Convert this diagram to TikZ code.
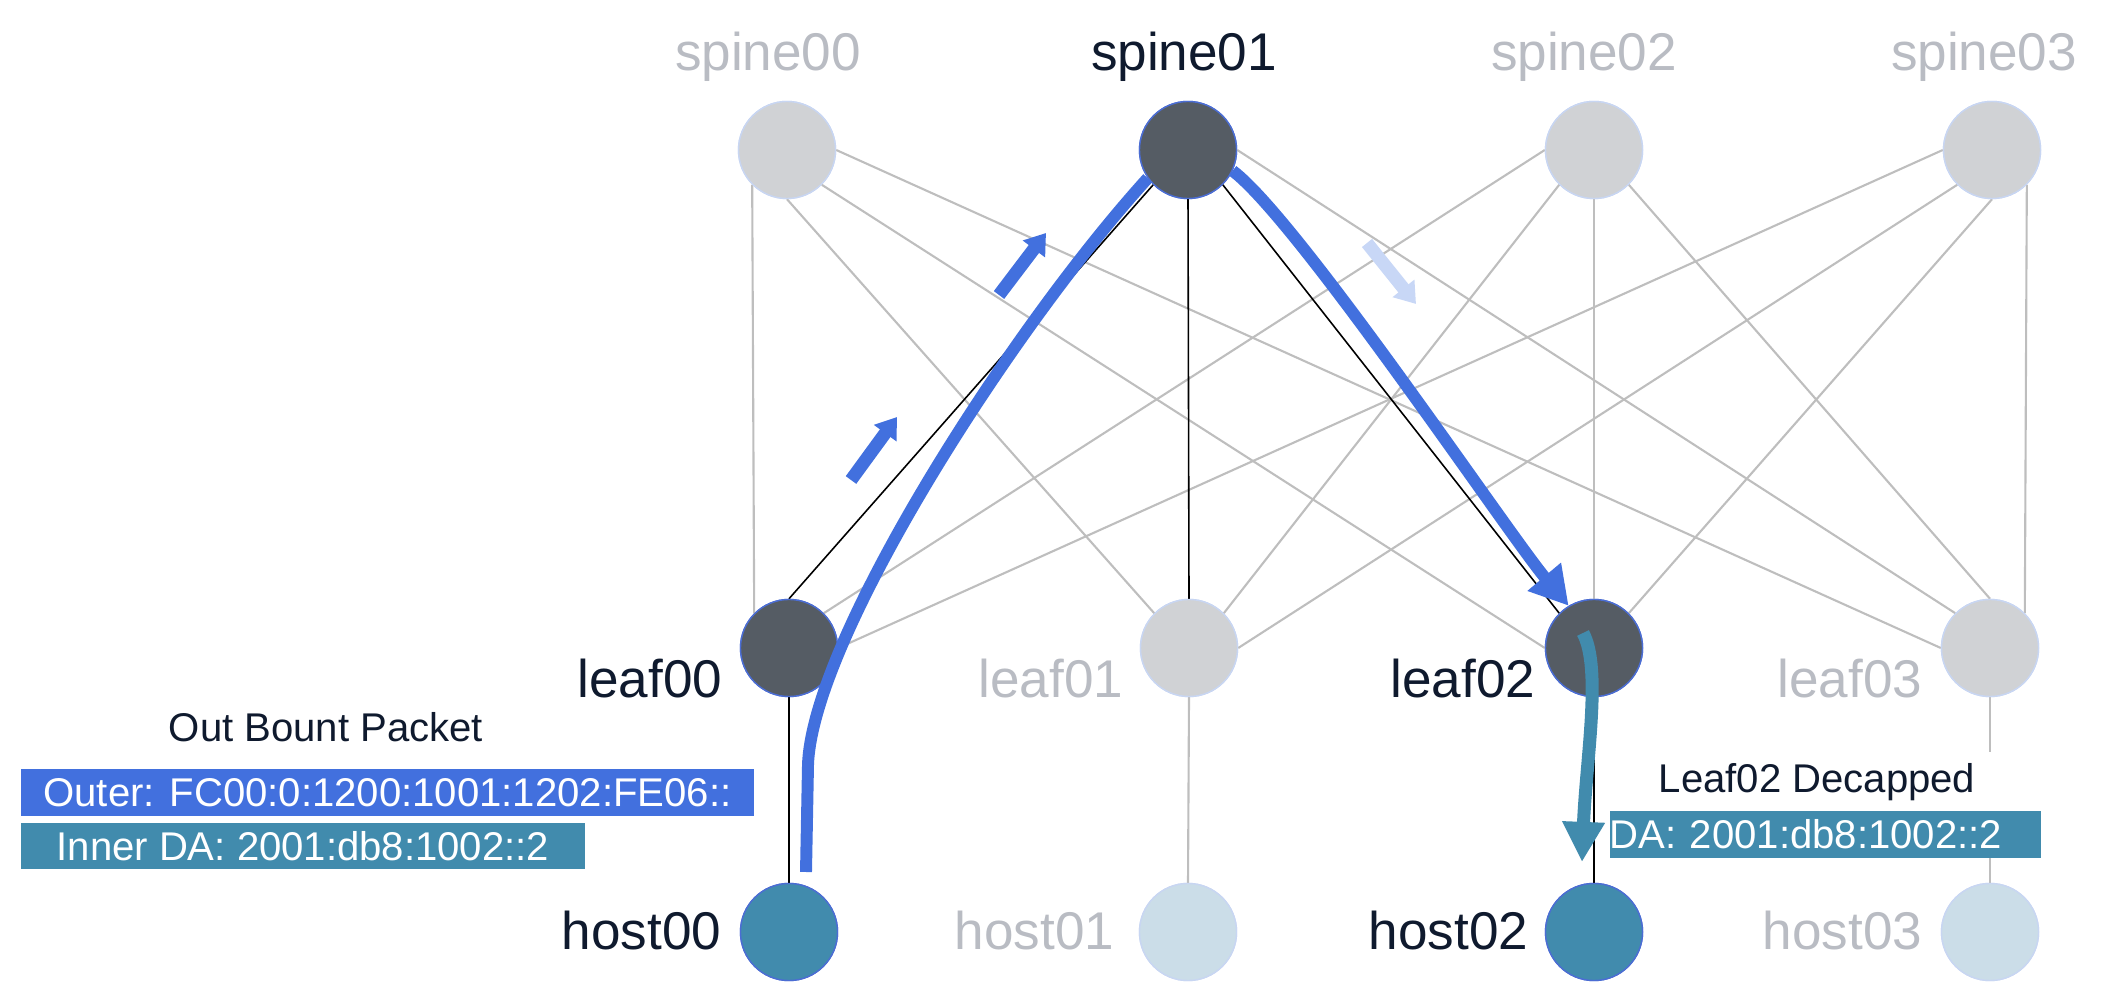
\documentclass[tikz,border=0pt]{standalone}
\usepackage{fontspec}
\setmainfont{Liberation Sans}
\usetikzlibrary{calc,arrows.meta}
\definecolor{SlateNode}{HTML}{555C64}
\definecolor{MistNode}{HTML}{D0D2D5}
\definecolor{TealNode}{HTML}{418BAD}
\definecolor{PaleNode}{HTML}{CBDDE8}
\definecolor{RimBlue}{HTML}{4B6DD3}
\definecolor{RimPale}{HTML}{C8D6F2}
\definecolor{InkDark}{HTML}{0F1A2E}
\definecolor{InkGray}{HTML}{B9BCC3}
\definecolor{WireGray}{HTML}{BEBEBE}
\definecolor{PathBlue}{HTML}{4270DE}
\definecolor{GhostBlue}{HTML}{C8D7F6}

\begin{document}
\begin{tikzpicture}[x=0.01cm,y=-0.01cm,
  dev/.style={circle,minimum size=0.97cm,inner sep=0pt,line width=0.4pt},
  busy/.style={dev,fill=SlateNode,draw=RimBlue},
  idle/.style={dev,fill=MistNode,draw=RimPale},
  hbusy/.style={dev,fill=TealNode,draw=RimBlue},
  hidle/.style={dev,fill=PaleNode,draw=RimPale},
  tag/.style={inner sep=0pt,font=\fontsize{15.1}{18}\selectfont,text=InkDark},
  tagoff/.style={tag,text=InkGray},
  wire/.style={WireGray,line width=0.6pt},
  live/.style={black,line width=0.45pt},
  note/.style={font=\fontsize{11.4}{14}\selectfont,text=InkDark},
  chip/.style={font=\fontsize{11.4}{14}\selectfont,text=white,minimum height=0.47cm,inner ysep=0pt},
  flow/.style={line width=3.4pt},
  nudge/.style={line width=3.7pt,-{Triangle[length=5.7pt,width=7.6pt]}}]
\useasboundingbox (0,0) rectangle (2118,992);

% devices
\node[idle] (spine00) at (787,150) {};
\node[busy] (spine01) at (1188,150) {};
\node[idle] (spine02) at (1594,150) {};
\node[idle] (spine03) at (1992,150) {};
\node[busy] (leaf00) at (789,648) {};
\node[idle] (leaf01) at (1189,648) {};
\node[busy] (leaf02) at (1594,648) {};
\node[idle] (leaf03) at (1990,648) {};
\node[hbusy] (host00) at (789,932) {};
\node[hidle] (host01) at (1188,932) {};
\node[hbusy] (host02) at (1594,932) {};
\node[hidle] (host03) at (1990,932) {};

% fabric links
\draw[wire] (spine00.south west) -- (leaf00.north west);
\draw[wire] (spine00.south) -- (leaf01.north west);
\draw[wire] (spine00.south east) -- (leaf02.west);
\draw[wire] (spine00.east) -- (leaf03.west);
\draw[wire] (spine01.east) -- (leaf03.north west);
\draw[wire] (spine02.west) -- (leaf00.north east);
\draw[wire] (spine02.south west) -- (leaf01.north east);
\draw[wire] (spine02.south) -- (leaf02.north);
\draw[wire] (spine02.south east) -- (leaf03.north);
\draw[wire] (spine03.west) -- (leaf00.east);
\draw[wire] (spine03.south west) -- (leaf01.east);
\draw[wire] (spine03.south) -- (leaf02.north east);
\draw[wire] (spine03.south east) -- (leaf03.north east);
\draw[wire] (leaf01.south) -- (host01.north);
\draw[wire] (leaf03.south) -- (host03.north);
\draw[live] (spine01.south west) -- (leaf00.north);
\draw[live] (spine01.south) -- (leaf01.north);
\draw[live] (spine01.south east) -- (leaf02.north west);
\draw[live] (leaf00.south) -- (host00.north);
\draw[live] (leaf02.south) -- (host02.north);

% redraw devices over the links
\node[idle] at (spine00) {};
\node[busy] at (spine01) {};
\node[idle] at (spine02) {};
\node[idle] at (spine03) {};
\node[busy] at (leaf00) {};
\node[idle] at (leaf01) {};
\node[busy] at (leaf02) {};
\node[idle] at (leaf03) {};
\node[hbusy] at (host00) {};
\node[hidle] at (host01) {};
\node[hbusy] at (host02) {};
\node[hidle] at (host03) {};

% names
\node[tagoff,anchor=base] (spine00tag) at (768,71) {spine00};
\node[tag,anchor=base] (spine01tag) at (1184,71) {spine01};
\node[tagoff,anchor=base] (spine02tag) at (1584,71) {spine02};
\node[tagoff,anchor=base] (spine03tag) at (1984,71) {spine03};
\node[tag,anchor=base east] (leaf00tag) at ($(leaf00)+(-66,50)$) {leaf00};
\node[tagoff,anchor=base east] (leaf01tag) at ($(leaf01)+(-65,50)$) {leaf01};
\node[tag,anchor=base east] (leaf02tag) at ($(leaf02)+(-58,50)$) {leaf02};
\node[tagoff,anchor=base east] (leaf03tag) at ($(leaf03)+(-67,50)$) {leaf03};
\node[tag,anchor=base east] (host00tag) at ($(host00)+(-67,18)$) {host00};
\node[tagoff,anchor=base east] (host01tag) at ($(host01)+(-73,18)$) {host01};
\node[tag,anchor=base east] (host02tag) at ($(host02)+(-65,18)$) {host02};
\node[tagoff,anchor=base east] (host03tag) at ($(host03)+(-67,18)$) {host03};

% packet path
\coordinate (pkt0) at (806,872);
\draw[flow,PathBlue] (pkt0) -- (808,765) .. controls (812,640) and (1010,330) .. (spine01.215);
\draw[flow,PathBlue,-{Triangle[length=10.8pt,width=11.7pt]}] (spine01.-25) .. controls (1298,220) and (1509,535) .. (leaf02.121);
\coordinate (up1a) at (851,480);
\coordinate (up1b) at (897,417);
\coordinate (up2a) at (999,295);
\coordinate (up2b) at (1046,233);
\coordinate (dn1a) at (1367,243);
\coordinate (dn1b) at (1416,304);
\draw[nudge,PathBlue] (up1a) -- (up1b);
\draw[nudge,PathBlue] (up2a) -- (up2b);
\draw[nudge,GhostBlue] (dn1a) -- (dn1b);
\coordinate (dec0) at (1583,633);
\coordinate (dec1) at (1582,862);
\draw[line width=3.7pt,TealNode,-{Triangle[length=11.4pt,width=11.4pt]}] (dec0) .. controls (1602,668) and (1586,760) .. (dec1);

% headers
\node[note,anchor=base] (outtitle) at (326,742) {Out Bount Packet};
\node[chip,fill=PathBlue,anchor=north west,minimum width=7.33cm] (outerbox) at (20,768) {Outer: FC00:0:1200:1001:1202:FE06::};
\node[chip,fill=TealNode,anchor=north west,minimum width=5.64cm,minimum height=0.46cm] (innerbox) at (20,822) {Inner DA: 2001:db8:1002::2};
\node[note,anchor=base,fill=white,inner xsep=0.2cm] (dectitle) at (1817,793) {Leaf02 Decapped};
\node[chip,fill=TealNode,anchor=north west,text width=4.31cm,align=left,inner xsep=0pt] (decbox) at (1609,810) {DA: 2001:db8:1002::2};
\end{tikzpicture}
\end{document}
